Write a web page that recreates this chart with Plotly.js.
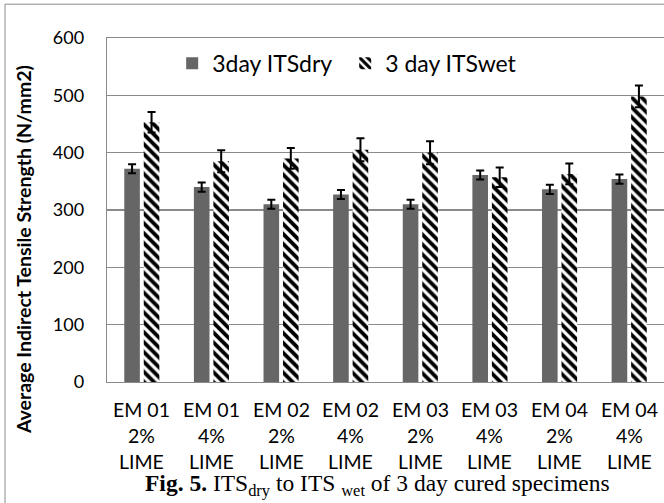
<!DOCTYPE html>
<html><head><meta charset="utf-8">
<script src="https://cdn.plot.ly/plotly-3.0.1.min.js"></script>
<style>html,body{margin:0;padding:0;background:#fff}#chart{width:664px;height:503px}</style>
</head><body><div id="chart"></div>
<script>
// ---- data ----
const mixLabels = ['EM 01','EM 01','EM 02','EM 02','EM 03','EM 03','EM 04','EM 04'];
const limeLabels = ['2%','4%','2%','4%','2%','4%','2%','4%'];
const limeWord = ['LIME','LIME','LIME','LIME','LIME','LIME','LIME','LIME'];
const categories = mixLabels.map((m,i)=>m+' '+limeLabels[i]+' '+limeWord[i]);
const itsDry = [372,340,310,327,310,361,336,354];
const itsDryErr = [8,8,8,8,8,8,8,8];
const itsWet = [453,385,390,405,400,357,363,498];
const itsWetErr = [18,19,18,20,20,17,18,19];
const yTicks = [0,100,200,300,400,500,600];
const seriesNames = ['3day ITSdry','3 day ITSwet'];
const yTitle = 'Average Indirect Tensile Strength (N/mm2)';
const caption = '<b>Fig. 5.</b> ITS<sub>dry</sub> to ITS <sub>wet</sub> of 3 day cured specimens';

const FONT = 'Lato, "Open Sans", sans-serif';
const GRID = '#8a8a8a';

const traces = [
  {type:'bar', name:seriesNames[0], x:categories, y:itsDry,
   marker:{color:'#666666', line:{width:0}},
   error_y:{type:'data', array:itsDryErr, visible:true, color:'#000', thickness:2, width:4}},
  {type:'bar', name:seriesNames[1], x:categories, y:itsWet,
   marker:{color:'#ffffff', line:{width:0},
     pattern:{shape:'\\', fgcolor:'#000000', bgcolor:'#ffffff', fgopacity:1, size:7, solidity:0.55, fillmode:'replace'}},
   error_y:{type:'data', array:itsWetErr, visible:true, color:'#000', thickness:2, width:4}}
];

const lineY = [-0.0797, -0.1553, -0.2309];
const annotations = [];
categories.forEach((c,i)=>{
  [mixLabels[i], limeLabels[i], limeWord[i]].forEach((t,k)=>{
    annotations.push({x:c, xref:'x', y:lineY[k], yref:'paper', text:t, showarrow:false,
      xanchor:'center', yanchor:'middle', font:{family:FONT, size:19.5, color:'#000'}});
  });
});
annotations.push({x:-0.151, xref:'paper', y:0.386, yref:'paper', text:'<b>'+yTitle+'</b>', textangle:-90,
  showarrow:false, xanchor:'center', yanchor:'middle', font:{family:FONT, size:19.5, color:'#000'}});
annotations.push({x:0.4856, xref:'paper', y:-0.298, yref:'paper', text:caption, showarrow:false,
  xanchor:'center', yanchor:'middle', font:{family:'"Liberation Serif", "Times New Roman", serif', size:23.5, color:'#000'}});

const layout = {
  width:664, height:503,
  margin:{l:107, r:0, t:38, b:121, pad:0},
  paper_bgcolor:'#ffffff', plot_bgcolor:'#ffffff',
  barmode:'group', bargap:0.44, bargroupgap:0.2,
  showlegend:true,
  legend:{orientation:'h', x:0.117, y:0.9267, xanchor:'left', yanchor:'middle',
    font:{family:FONT, size:23, color:'#000'}, bgcolor:'rgba(0,0,0,0)',
    entrywidth:128, entrywidthmode:'pixels', traceorder:'normal'},
  xaxis:{type:'category', showticklabels:false, ticks:'', showgrid:false,
    showline:true, mirror:true, linecolor:GRID, linewidth:1.3, zeroline:false, fixedrange:true},
  yaxis:{range:[0,600], tickvals:yTicks, ticktext:yTicks.map(String), showgrid:true, gridcolor:GRID, gridwidth:1.3,
    showline:true, linecolor:GRID, linewidth:1.3, zeroline:false, ticks:'', ticklabelstandoff:18,
    tickfont:{family:FONT, size:18, color:'#000'}, fixedrange:true},
  shapes:[{type:'rect', xref:'paper', yref:'paper', x0:-0.1831, x1:1.05, y0:-0.5, y1:1.0983,
    line:{color:'#8c8c8c', width:1}, fillcolor:'rgba(0,0,0,0)', layer:'below'}],
  annotations:annotations
};

Plotly.newPlot('chart', traces, layout, {displayModeBar:false, staticPlot:true});
</script>
</body></html>
